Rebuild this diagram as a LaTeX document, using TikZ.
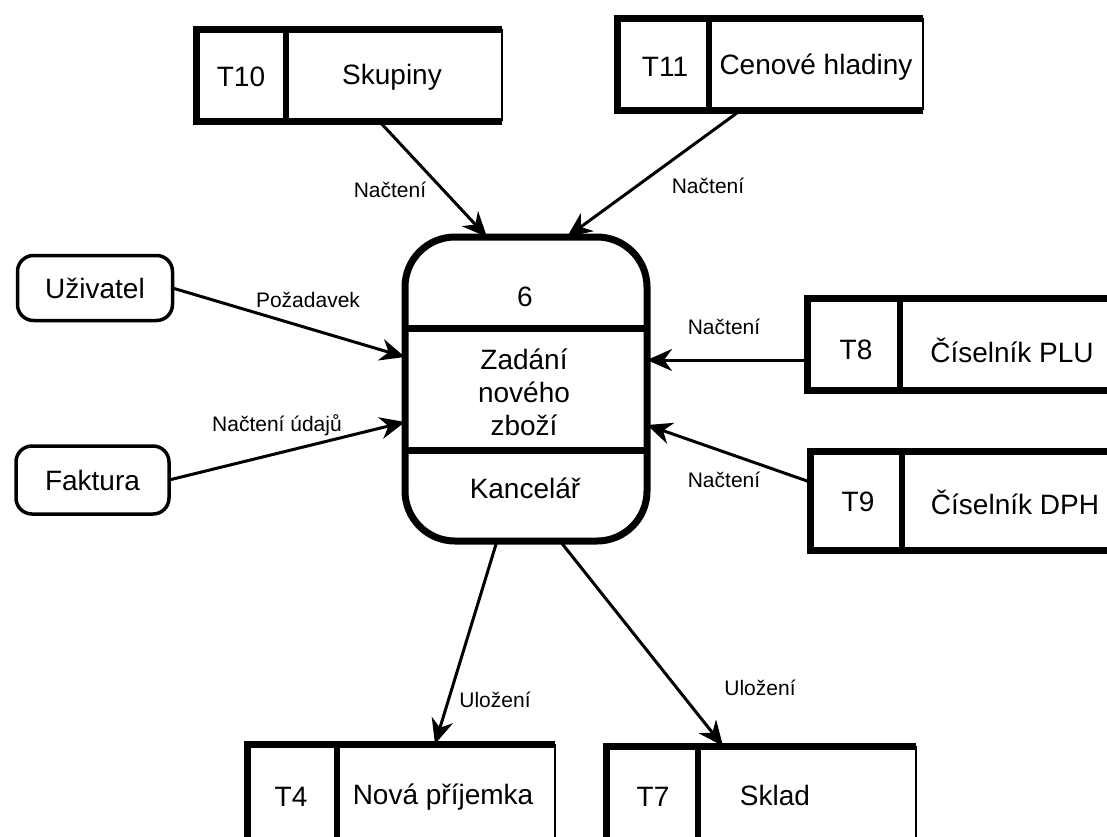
\documentclass[tikz,border=0pt]{standalone}
\usepackage{fontspec}
\setmainfont{Liberation Sans}
\usetikzlibrary{arrows.meta,calc}

% frame of a data store: heavy top, left and bottom, thin right side, heavy divider
\newcommand\storeframe[2]{%
  \draw[line width=7pt,line join=miter] (#1.north east) -- (#1.north west) -- (#1.south west) -- (#1.south east);
  \draw[line width=2pt] (#1.north east) -- (#1.south east);
  \draw[line width=6pt] ([xshift=#2]#1.north west) -- ([xshift=#2]#1.south west);
}

\begin{document}
\begin{tikzpicture}[x=1pt,y=-1pt,
  flow/.style={line width=3pt,-{Stealth[length=25pt,width=22pt,inset=8pt]}},
  lbl/.style={font=\fontsize{21}{25}\selectfont,inner sep=0pt},
  txt/.style={font=\fontsize{28}{33}\selectfont,inner sep=0pt,align=center},
  store/.style={rectangle,inner sep=0pt,outer sep=0pt},
  entity/.style={txt,draw,line width=3.5pt,rounded corners=16pt,outer sep=0pt}]

\clip (0,0) rectangle (1107,836);
\fill[white] (0,0) rectangle (1107,836);

% process
\node[draw,line width=7pt,rounded corners=50pt,minimum width=242pt,minimum height=304pt,inner sep=0pt,outer sep=0pt] (proc) at (526,389) {};
\draw[line width=7pt] ($(proc.north west)+(0,91)$) -- ($(proc.north east)+(0,91)$);
\draw[line width=7pt] ($(proc.north west)+(0,213)$) -- ($(proc.north east)+(0,213)$);
\node[txt] (pnum) at (525,297) {6};
\node[txt] (pname) at (524,392) {Zadání\\nového\\zboží};
\node[txt] (pplace) at (525,488) {Kancelář};

% external entities
\node[entity,minimum width=155pt,minimum height=65pt] (uz) at (95,288) {Uživatel};
\node[entity,minimum width=153pt,minimum height=68pt] (fa) at (92.5,480) {Faktura};

% data stores
\node[store,minimum width=306pt,minimum height=92pt] (t10) at (349,75) {};
\storeframe{t10}{90}
\node[txt] (t10id) at (241,77) {T10};
\node[txt] (t10nm) at (392,77) {Skupiny};

\node[store,minimum width=306pt,minimum height=92pt] (t11) at (770,64) {};
\storeframe{t11}{91.5}
\node[txt] (t11id) at (665,67) {T11};
\node[txt] (t11nm) at (816,67) {Cenové hladiny};

\node[store,minimum width=313pt,minimum height=92pt] (t8) at (963.5,344) {};
\storeframe{t8}{92.5}
\node[txt] (t8id) at (856,350) {T8};
\node[txt] (t8nm) at (1012,350) {Číselník PLU};

\node[store,minimum width=310pt,minimum height=99pt] (t9) at (965,501) {};
\storeframe{t9}{92}
\node[txt] (t9id) at (858,502) {T9};
\node[txt] (t9nm) at (1015,502) {Číselník DPH};

\node[store,minimum width=308pt,minimum height=106pt] (t4) at (401,797) {};
\storeframe{t4}{90}
\node[txt] (t4id) at (291,797) {T4};
\node[txt] (t4nm) at (443,797) {Nová příjemka};

\node[store,minimum width=310pt,minimum height=104pt] (t7) at (761,798) {};
\storeframe{t7}{92}
\node[txt] (t7id) at (653,797) {T7};
\node[txt] (t7nm) at (775,795) {Sklad};

% data flows
\draw[flow] ([shift={(30,0)}]t10.south) -- ([shift={(-39,0)}]proc.north);
\draw[flow] ([shift={(-29,0)}]t11.south) -- ([shift={(41,0)}]proc.north);
\draw[flow] (uz.east) -- ([shift={(0,-32)}]proc.west);
\draw[flow] (fa.east) -- ([shift={(0,33)}]proc.west);
\draw[flow] ([shift={(0,16)}]t8.west) -- ([shift={(0,-29)}]proc.east);
\draw[flow] ([shift={(0,-19)}]t9.west) -- ([shift={(0,36)}]proc.east);
\draw[flow] ([shift={(-29,0)}]proc.south) -- ([shift={(34,0)}]t4.north);
\draw[flow] ([shift={(34,0)}]proc.south) -- ([shift={(-38,0)}]t7.north);

% flow labels
\node[lbl] (l10) at (390,190) {Načtení};
\node[lbl] (l11) at (708,186) {Načtení};
\node[lbl] (luz) at (308,300) {Požadavek};
\node[lbl] (lfa) at (277,425) {Načtení údajů};
\node[lbl] (l8) at (724,327) {Načtení};
\node[lbl] (l9) at (724,480) {Načtení};
\node[lbl] (l4) at (495,700) {Uložení};
\node[lbl] (l7) at (760,688) {Uložení};
\end{tikzpicture}
\end{document}
